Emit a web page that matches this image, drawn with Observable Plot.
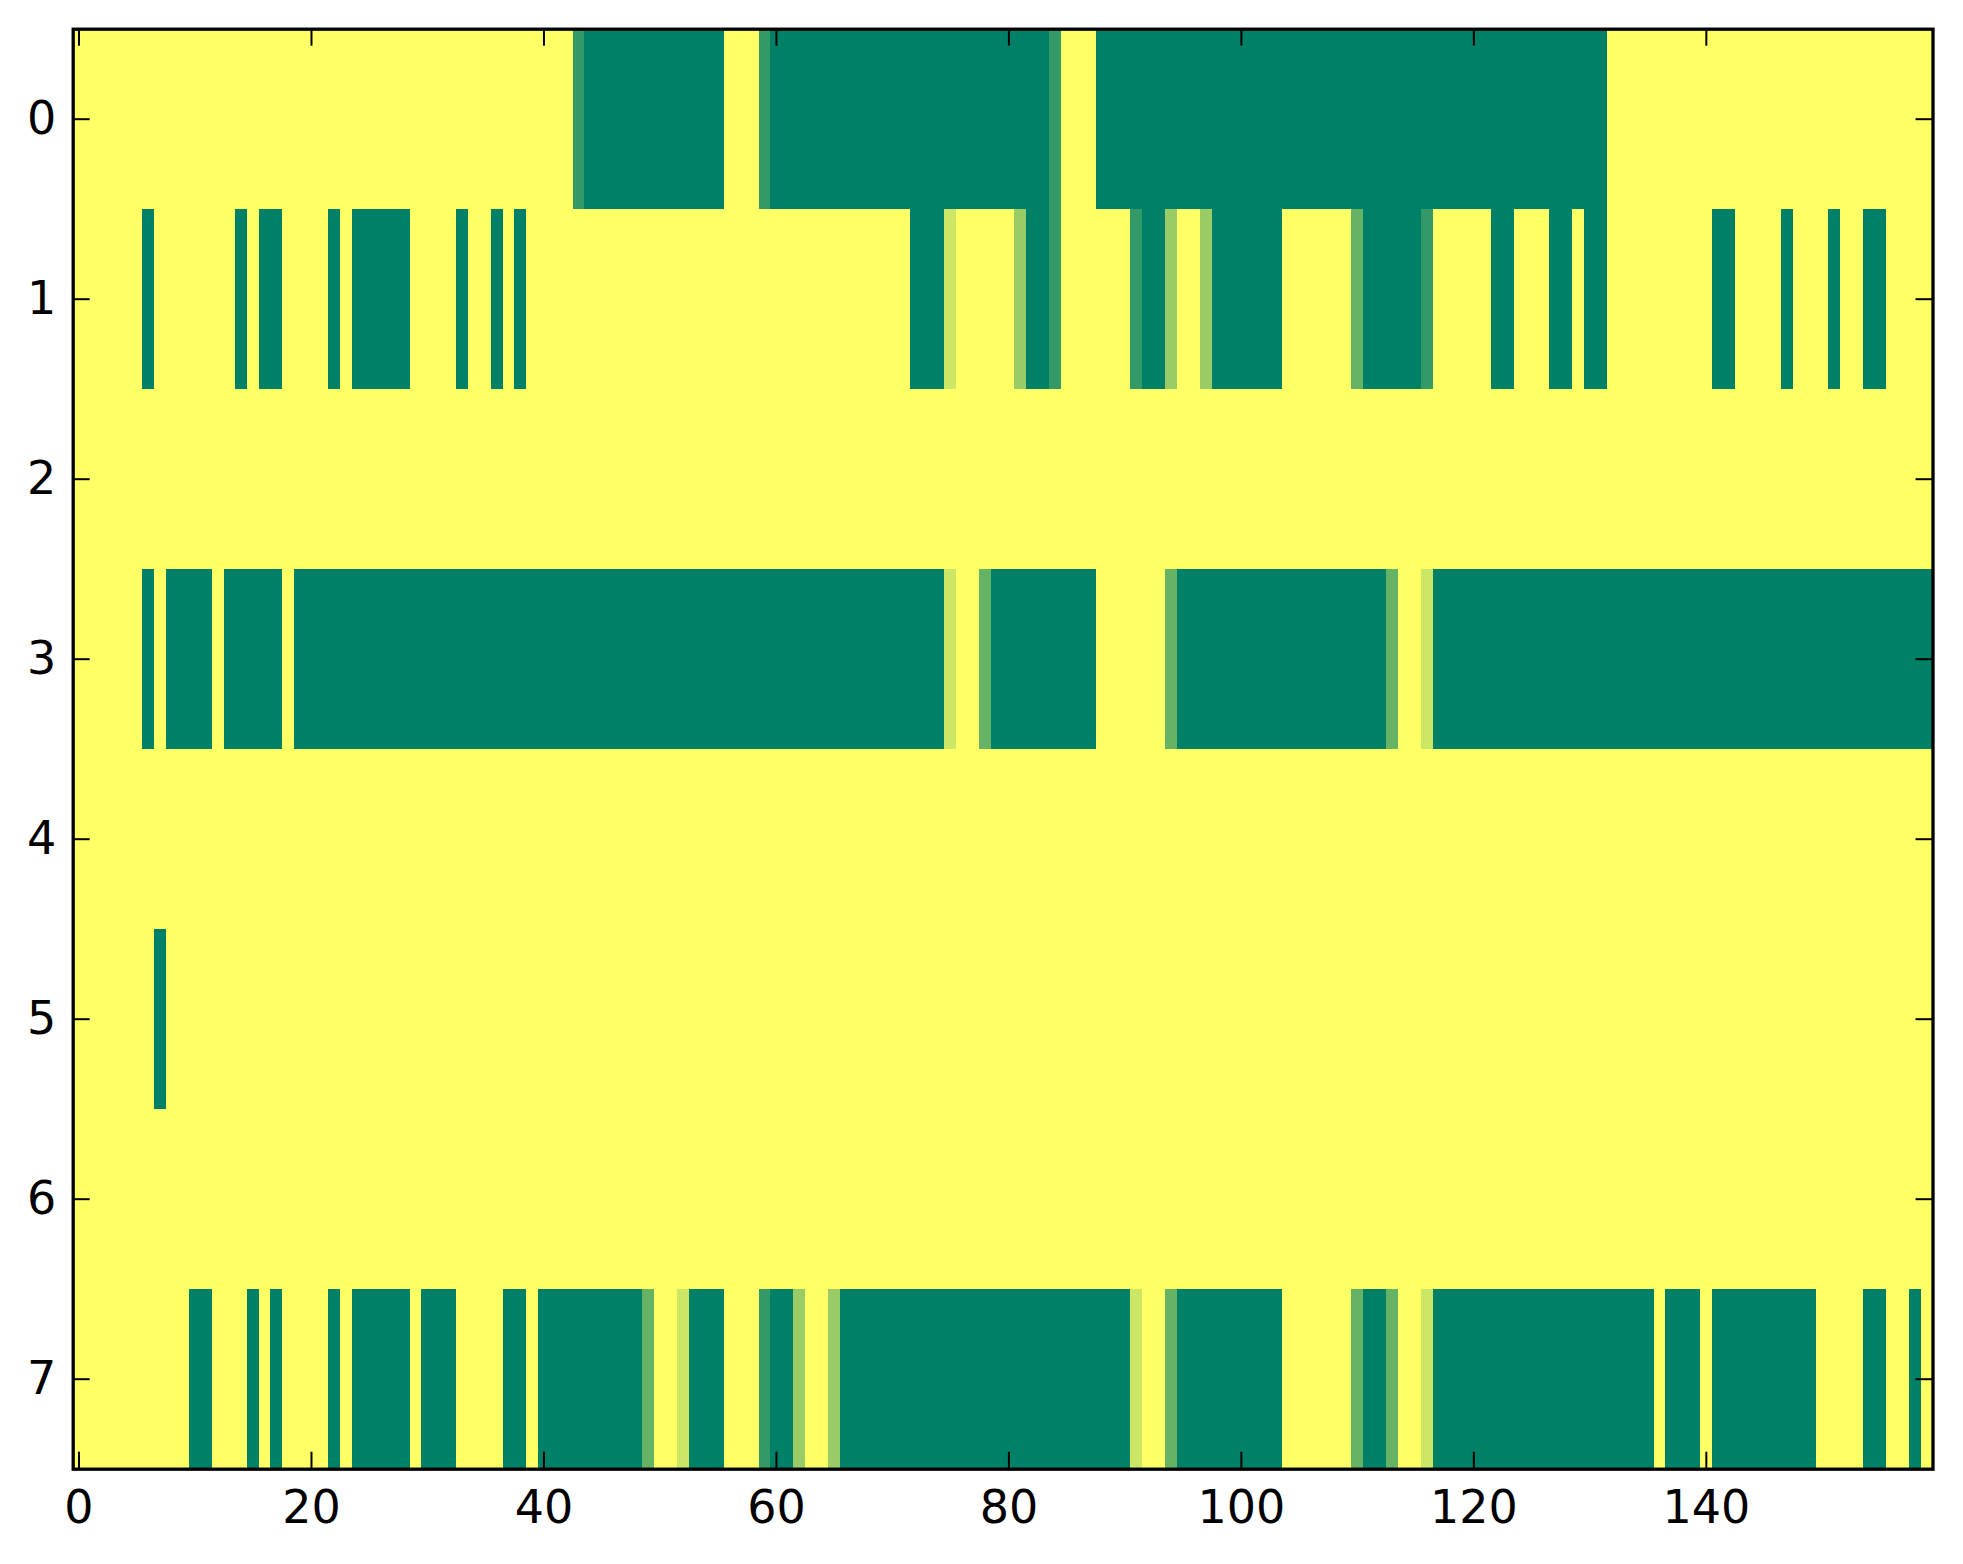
<!DOCTYPE html>
<html>
<head>
<meta charset="utf-8">
<script src="https://cdn.jsdelivr.net/npm/d3@7"></script>
<script src="https://cdn.jsdelivr.net/npm/@observablehq/plot@0.6"></script>
<style>
  html, body { margin: 0; padding: 0; background: #fff; }
  #chart { width: 1963px; height: 1564px; }
</style>
</head>
<body>
<div id="chart"></div>
<script>
// Runs of non-zero cells per row: [firstColumn, lastColumn, value]; all other cells are 0
const row0 = [[43,43,0.8],[44,55,1],[59,59,0.8],[60,83,1],[84,84,0.8],[88,131,1]];
const row1 = [[6,6,1],[14,14,1],[16,17,1],[22,22,1],[24,28,1],[33,33,1],[36,36,1],[38,38,1],
  [72,74,1],[75,75,0.2],[81,81,0.4],[82,83,1],[84,84,0.8],[91,91,0.8],[92,93,1],[94,94,0.4],
  [97,97,0.4],[98,103,1],[110,110,0.6],[111,115,1],[116,116,0.8],[122,123,1],[127,128,1],
  [130,131,1],[141,142,1],[147,147,1],[151,151,1],[154,155,1]];
const row2 = [];
const row3 = [[6,6,1],[8,11,1],[13,17,1],[19,74,1],[75,75,0.2],[78,78,0.6],[79,87,1],
  [94,94,0.6],[95,112,1],[113,113,0.6],[116,116,0.2],[117,159,1]];
const row4 = [];
const row5 = [[7,7,1]];
const row6 = [];
const row7 = [[10,11,1],[15,15,1],[17,17,1],[22,22,1],[24,28,1],[30,32,1],[37,38,1],[40,48,1],
  [49,49,0.6],[52,52,0.2],[53,55,1],[59,59,0.8],[60,61,1],[62,62,0.4],[65,65,0.4],[66,90,1],
  [91,91,0.2],[94,94,0.6],[95,103,1],[110,110,0.6],[111,112,1],[113,113,0.6],[116,116,0.2],
  [117,135,1],[137,139,1],[141,149,1],[154,155,1],[158,158,1]];
const rows = [row0, row1, row2, row3, row4, row5, row6, row7];
const nCols = 160;
const xTicks = [0, 20, 40, 60, 80, 100, 120, 140];
const yTicks = [0, 1, 2, 3, 4, 5, 6, 7];

const cells = rows.flatMap((runs, r) =>
  d3.range(nCols).map(c => {
    const run = runs.find(([a, b]) => c >= a && c <= b);
    return {row: r, col: c, value: run ? run[2] : 0};
  })
);

const W = 1963, H = 1564;
const mL = 72.7, mR = 30.5, mT = 28.7, mB = 95.3;
const plotW = W - mL - mR, plotH = H - mT - mB;
const tickLen = 17;

const chart = Plot.plot({
  width: W, height: H,
  marginLeft: mL, marginRight: mR, marginTop: mT, marginBottom: mB,
  style: {fontFamily: "'DejaVu Sans', sans-serif", background: "white", color: "black"},
  x: {domain: [-0.5, nCols - 0.5]},
  y: {domain: [rows.length - 0.5, -0.5]},
  color: {type: "linear", domain: [0, 1], range: ["#ffff66", "#008066"], interpolate: "rgb"},
  marks: [
    Plot.rect(cells, {
      x1: d => d.col - 0.5, x2: d => d.col + 0.5,
      y1: d => d.row - 0.5, y2: d => d.row + 0.5,
      fill: "value", shapeRendering: "crispEdges"
    }),
    Plot.tickX(xTicks, {x: d => d, insetTop: plotH - tickLen, stroke: "black", strokeWidth: 2}),
    Plot.tickX(xTicks, {x: d => d, insetBottom: plotH - tickLen, stroke: "black", strokeWidth: 2}),
    Plot.tickY(yTicks, {y: d => d, insetRight: plotW - tickLen, stroke: "black", strokeWidth: 2}),
    Plot.tickY(yTicks, {y: d => d, insetLeft: plotW - tickLen, stroke: "black", strokeWidth: 2}),
    Plot.frame({stroke: "black", strokeWidth: 3.3}),
    Plot.axisX(xTicks, {anchor: "bottom", tickSize: 0, tickPadding: 21, fontSize: 46, label: null, tickFormat: d => String(d)}),
    Plot.axisY(yTicks, {anchor: "left", tickSize: 0, tickPadding: 17, fontSize: 46, label: null, tickFormat: d => String(d)})
  ]
});
document.getElementById("chart").appendChild(chart);
</script>
</body>
</html>
